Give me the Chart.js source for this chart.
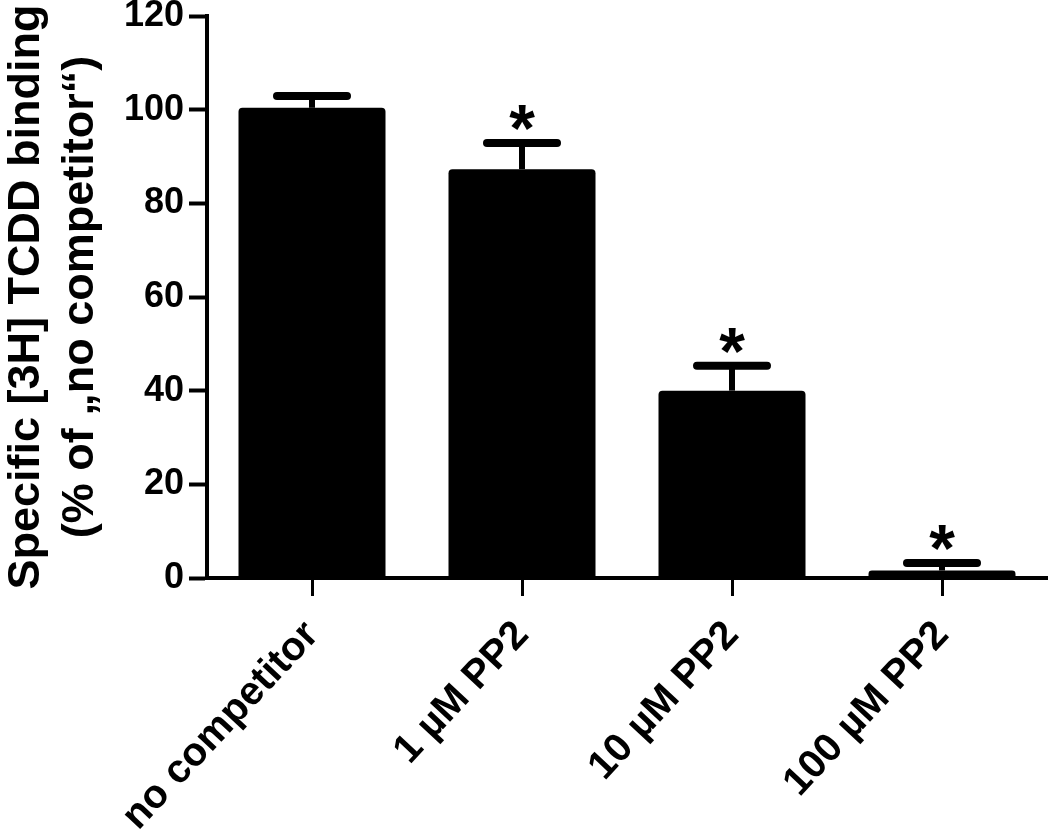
<!DOCTYPE html>
<html lang="en">
<head>
    <meta charset="UTF-8">
    <title>Specific [3H] TCDD binding</title>
    <script src="https://cdn.jsdelivr.net/npm/chart.js"></script>
    <style>
        html, body { margin: 0; padding: 0; background: #fff; }
        #wrap { width: 1050px; height: 835px; }
    </style>
</head>
<body>
    <div id="wrap"><canvas id="bindingChart" width="1050" height="835"></canvas></div>

    <script>
        const categories = ['no competitor', '1 \u00b5M PP2', '10 \u00b5M PP2', '100 \u00b5M PP2'];
        const meanBinding = [100.4, 87.3, 40.0, 1.6];
        const errorUpper = [102.9, 92.9, 45.3, 3.2];
        const significant = [false, true, true, true];
        const yTicks = [0, 20, 40, 60, 80, 100, 120];

        const font = 'Liberation Sans, Arial, sans-serif';

        // error bars + asterisks drawn on top of the bars
        const errorBarPlugin = {
            id: 'errorBars',
            afterDatasetsDraw(chart) {
                const ctx = chart.ctx;
                const x = chart.scales.x;
                const y = chart.scales.y;
                ctx.save();
                ctx.strokeStyle = '#000';
                ctx.fillStyle = '#000';
                categories.forEach((c, i) => {
                    const cx = x.getPixelForValue(i);
                    const top = y.getPixelForValue(meanBinding[i]);
                    const cap = y.getPixelForValue(errorUpper[i]);
                    ctx.lineCap = 'butt';
                    ctx.lineWidth = 6;
                    ctx.beginPath();
                    ctx.moveTo(cx, top);
                    ctx.lineTo(cx, cap);
                    ctx.stroke();
                    ctx.lineCap = 'round';
                    ctx.lineWidth = 8;
                    ctx.beginPath();
                    ctx.moveTo(cx - 35, cap);
                    ctx.lineTo(cx + 35, cap);
                    ctx.stroke();
                    if (significant[i]) {
                        ctx.font = 'bold 66px ' + font;
                        ctx.textAlign = 'center';
                        ctx.textBaseline = 'alphabetic';
                        ctx.fillText('*', cx, cap + 8);
                    }
                });
                ctx.restore();
            }
        };

        new Chart(document.getElementById('bindingChart'), {
            type: 'bar',
            data: {
                labels: categories,
                datasets: [{
                    data: meanBinding,
                    backgroundColor: '#000',
                    borderWidth: 0,
                    borderRadius: 4,
                    borderSkipped: 'bottom',
                    categoryPercentage: 1.0,
                    barPercentage: 0.7
                }]
            },
            options: {
                responsive: false,
                animation: false,
                layout: { padding: { top: 0, right: 3, left: 0, bottom: 0 } },
                plugins: {
                    legend: { display: false },
                    tooltip: { enabled: false }
                },
                scales: {
                    x: {
                        offset: true,
                        grid: { display: true, drawOnChartArea: false, offset: false, tickLength: 18, tickWidth: 3, tickColor: '#000' },
                        border: { display: true, width: 4, color: '#000' },
                        ticks: {
                            color: '#000',
                            font: { family: font, size: 40, weight: 'bold' },
                            minRotation: 47,
                            maxRotation: 47,
                            padding: 16
                        },
                        afterFit: s => { s.height = 835 - 578; }
                    },
                    y: {
                        min: 0,
                        max: 120,
                        afterBuildTicks: s => { s.ticks = yTicks.map(v => ({ value: v })); },
                        grid: { display: true, drawOnChartArea: false, tickLength: 18, tickWidth: 4, tickColor: '#000' },
                        border: { display: true, width: 4, color: '#000' },
                        ticks: {
                            color: '#000',
                            font: { family: font, size: 36, weight: 'bold' },
                            padding: 5
                        },
                        title: {
                            display: true,
                            text: ['Specific [3H] TCDD binding', '(% of \u201eno competitor\u201c)'],
                            color: '#000',
                            font: { family: font, size: 45, weight: 'bold', lineHeight: 1.2 },
                            padding: { top: 0, bottom: 0 }
                        },
                        afterFit: s => {
                            s.width = 207;
                            s.paddingTop = 16;
                            s.paddingBottom = 0;
                        }
                    }
                }
            },
            plugins: [errorBarPlugin]
        });
    </script>
</body>
</html>
